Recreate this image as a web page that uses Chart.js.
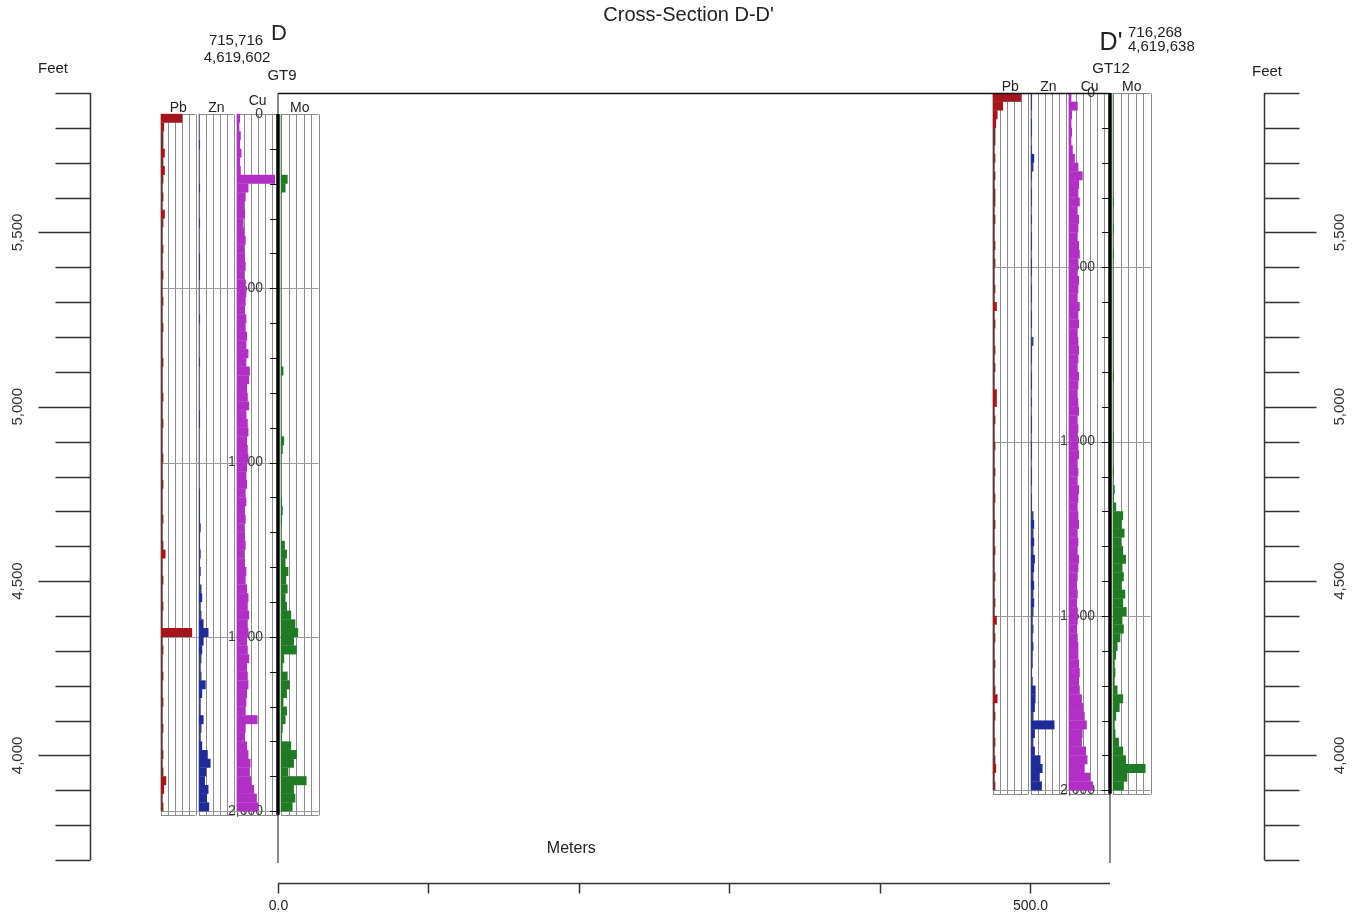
<!DOCTYPE html>
<html>
<head>
<meta charset="utf-8">
<title>Cross-Section D-D'</title>
<script src="https://cdn.jsdelivr.net/npm/chart.js@4.4.1/dist/chart.umd.min.js"></script>
<style>
  html, body { margin: 0; padding: 0; background: #fff; }
  #wrap { position: relative; width: 1359px; height: 917px; }
</style>
</head>
<body>
<div id="wrap"><canvas id="xs"></canvas></div>
<script>
// sample spacing down each hole (ft) and total depth drilled
const sampleStep = 25
const holeDepth = 2010

// assay logs, one value per 25 ft interval from the collar (track units, 10 = one grid cell)
const gt9Pb = [30,4,3,3,5,3,5,3,2,3, 2,5,3,2,2,3,2,2,3,2, 2,3,2,2,3,2,2,2,3,2, 2,2,3,2,2,3,2,2,2,3,
               2,2,3,2,2,2,3,2,2,3, 6,2,2,3,2,2,3,2,2,44, 2,3,2,2,3,2,2,3,2,2, 3,2,2,3,2,3,7,4,2,3]
const gt9Zn = [0,0,0,1,0,0,0,0,1,0, 0,0,1,0,0,0,1,1,1,0, 0,0,0,1,0,0,0,0,1,0, 0,0,0,0,1,1,0,0,0,0,
               0,0,0,1,1,1,1,2,1,1, 2,1,2,1,3,4,2,3,6,13, 6,4,3,2,3,9,4,2,2,6, 3,2,4,12,16,10,8,13,11,14]
const gt9Cu = [4,3,5,4,6,4,5,54,16,12, 10,11,9,10,12,10,11,12,10,12, 13,12,11,13,12,14,13,16,13,18, 17,14,15,17,13,15,16,14,15,16,
               14,13,14,12,13,11,12,10,11,12, 10,11,13,12,14,16,15,17,15,16, 14,15,17,14,15,16,14,13,12,29, 12,11,14,16,19,18,20,24,28,30]
const gt9Mo = [0,0,0,0,0,0,0,9,6,0, 0,0,0,0,0,0,0,0,0,0, 0,0,0,0,0,0,0,0,0,3, 0,0,0,0,0,0,0,4,2,0,
               0,0,0,0,1,2,1,0,0,5, 8,6,10,7,9,6,8,14,20,24, 18,22,4,2,9,12,8,3,8,6, 2,1,14,22,18,10,36,18,20,16]

const gt12Pb = [40,14,6,4,3,3,2,3,2,3, 2,3,3,2,3,2,2,3,2,3, 2,2,3,2,5,2,3,2,2,3, 2,3,2,2,5,5,2,3,2,2,
                3,2,2,3,2,2,3,2,2,3, 2,2,3,2,2,3,2,2,3,2, 5,2,3,2,2,3,2,2,3,6, 2,3,2,2,3,2,3,4,2,3]
const gt12Zn = [1,1,0,1,1,0,1,4,3,1, 0,1,1,0,1,0,1,1,0,1, 1,0,1,1,0,1,1,0,3,1, 1,0,1,1,0,1,0,1,1,0,
                1,1,0,1,1,0,1,1,3,4, 3,4,3,5,4,3,4,3,4,3, 2,3,2,3,2,2,1,2,6,6, 5,3,33,5,3,5,13,16,12,15]
const gt12Cu = [3,12,4,3,4,3,5,8,13,19, 14,13,15,12,14,13,12,14,15,13, 12,14,13,12,15,13,14,12,13,14, 13,12,14,13,12,13,14,12,13,12,
                13,14,12,13,12,14,13,12,13,14, 12,13,12,14,13,12,11,12,11,12, 12,11,12,13,13,14,15,14,15,18, 20,22,25,19,18,24,26,22,30,34]
const gt12Mo = [0,0,0,0,0,0,0,0,0,0, 0,0,1,0,0,1,0,0,1,0, 0,0,0,0,0,0,0,0,0,0, 0,0,1,0,0,0,0,0,0,1,
                0,0,0,1,0,2,1,4,14,12, 16,11,14,18,13,15,12,17,14,19, 13,15,10,6,4,2,3,2,6,14, 9,4,2,3,8,14,18,46,20,15]

// holes: distance along section (m), collar elevation (ft), coordinates
const holes = ['GT9', 'GT12']
const holeDistance = [0, 553.2]
const collarElev = [5840, 5900]
const holeEasting = ['715,716', '716,268']
const holeNorthing = ['4,619,602', '4,619,638']
const sectionEnds = ['D', "D'"]
const elements = ['Pb', 'Zn', 'Cu', 'Mo']

// axes
const feetTicks = [5900, 5800, 5700, 5600, 5500, 5400, 5300, 5200, 5100, 5000, 4900, 4800,
                   4700, 4600, 4500, 4400, 4300, 4200, 4100, 4000, 3900, 3800, 3700]
const feetMajor = [5500, 5000, 4500, 4000]
const feetMajorLabels = ['5,500', '5,000', '4,500', '4,000']
const meterTicks = [0, 100, 200, 300, 400, 500]
const meterLabels = ['0.0', '', '', '', '', '500.0']
const depthMarks = [0, 500, 1000, 1500, 2000]
const depthLabels = ['0', '500', '1,000', '1,500', '2,000']

// styling / track geometry (metres, relative to the hole trace)
const FONT = '"Liberation Sans", Arial, sans-serif'
const elementColor = { Pb: '#a3161b', Zn: '#1f2b98', Cu: '#b22fc6', Mo: '#1f7a24' }
const traceColor = { Pb: '#6a3434', Zn: '#3a3f7a', Cu: '#b22fc6', Mo: '#1f7a24' }
const track = {
  Pb: { left: -77.8, cells: 5, cell: 4.6 },
  Zn: { left: -52.5, cells: 5, cell: 4.6 },
  Cu: { left: -27.3, cells: 6, cell: 4.6 },
  Mo: { left: 2.0, cells: 5, cell: 5.0 }
}
const unitM = 0.4654
const logs = {
  GT9: { Pb: gt9Pb, Zn: gt9Zn, Cu: gt9Cu, Mo: gt9Mo },
  GT12: { Pb: gt12Pb, Zn: gt12Zn, Cu: gt12Cu, Mo: gt12Mo }
}

const datasets = []
holes.forEach((h, w) => {
  elements.forEach(el => {
    const x0 = holeDistance[w] + track[el].left
    const vals = logs[h][el]
    datasets.push({
      label: h + ' ' + el,
      data: vals.map((v, i) => ({ y: collarElev[w] - (i + 0.5) * sampleStep, x: [x0, x0 + v * unitM] })),
      // the faint background trace is darker than the anomalies
      backgroundColor: c => (vals[c.dataIndex] <= 3 ? traceColor[el] : elementColor[el]),
      borderWidth: 0,
      barThickness: 8.3,
      grouped: false
    })
  })
})

function text (ctx, s, x, y, size, align = 'center', base = 'middle', color = '#222') {
  ctx.font = size + 'px ' + FONT
  ctx.textAlign = align
  ctx.textBaseline = base
  ctx.fillStyle = color
  ctx.fillText(s, x, y)
}

function line (ctx, x1, y1, x2, y2, width = 1, color = '#000') {
  ctx.beginPath()
  ctx.lineWidth = width
  ctx.strokeStyle = color
  ctx.moveTo(x1, y1)
  ctx.lineTo(x2, y2)
  ctx.stroke()
}

const crisp = v => Math.round(v) + 0.5

const section = {
  id: 'section',
  beforeDraw (chart) {
    const { ctx, width, height } = chart
    ctx.save()
    ctx.fillStyle = '#fff'
    ctx.fillRect(0, 0, width, height)
    ctx.restore()
  },
  beforeDatasetsDraw (chart) {
    const { ctx } = chart
    const X = m => chart.scales.x.getPixelForValue(m)
    const Y = e => chart.scales.y.getPixelForValue(e)
    ctx.save()
    holes.forEach((h, w) => {
      const d = holeDistance[w]
      const top = crisp(Y(collarElev[w]))
      const bot = crisp(Y(collarElev[w] - holeDepth))
      elements.forEach(el => {
        const t = track[el]
        for (let c = 0; c <= t.cells; c++) {
          const x = crisp(X(d + t.left + c * t.cell))
          line(ctx, x, top, x, bot, 1, '#8c8c8c')
        }
        line(ctx, X(d + t.left), top, X(d + t.left + t.cells * t.cell), top, 1, '#8c8c8c')
        line(ctx, X(d + t.left), bot, X(d + t.left + t.cells * t.cell), bot, 1, '#8c8c8c')
      })
      const gx0 = X(d + track.Pb.left)
      const gx1 = X(d + track.Mo.left + track.Mo.cells * track.Mo.cell)
      depthMarks.forEach((dm, k) => {
        const y = crisp(Y(collarElev[w] - dm))
        if (dm > 0) line(ctx, gx0, y, gx1, y, 1, '#9a9a9a')
        text(ctx, depthLabels[k], X(d) - 15, Y(collarElev[w] - dm), 14, 'right', 'middle', '#3a3a3a')
      })
    })
    ctx.restore()
  },
  afterDatasetsDraw (chart) {
    const { ctx, chartArea } = chart
    const X = m => chart.scales.x.getPixelForValue(m)
    const Y = e => chart.scales.y.getPixelForValue(e)
    ctx.save()

    // section frame
    const yTop = crisp(Y(5900))
    line(ctx, X(holeDistance[0]), yTop, X(holeDistance[1]), yTop, 1.5, '#111')

    holes.forEach((h, w) => {
      const x = X(holeDistance[w])
      const yc = Y(collarElev[w])
      const yb = Y(collarElev[w] - holeDepth)
      line(ctx, x, yTop, x, yc, 1, '#111')
      line(ctx, x, yc, x, yb, 3.5, '#000')
      line(ctx, x, yb, x, chartArea.bottom + 3, 1, '#111')
      for (let dd = 100; dd < holeDepth; dd += 100) {
        const y = crisp(Y(collarElev[w] - dd))
        line(ctx, x - 8, y, x - 1, y, 1, '#111')
      }
      // track headers
      elements.forEach(el => {
        const t = track[el]
        const cx = X(holeDistance[w] + t.left + t.cells * t.cell / 2)
        const lift = (el === 'Cu' && w === 0) ? 9 : 2
        text(ctx, el, cx, yc - lift, 14, 'center', 'alphabetic', '#222')
      })
    })

    // hole annotations
    const x0 = X(holeDistance[0])
    text(ctx, sectionEnds[0], x0 + 1, 34, 22)
    text(ctx, holeEasting[0], x0 - 42, 41, 15)
    text(ctx, holeNorthing[0], x0 - 41, 58, 15)
    text(ctx, holes[0], x0 + 4, 76, 15)
    const x1 = X(holeDistance[1])
    text(ctx, sectionEnds[1], x1 + 1, 43, 25)
    text(ctx, holeEasting[1], x1 + 18, 33, 15, 'left')
    text(ctx, holeNorthing[1], x1 + 18, 47, 15, 'left')
    text(ctx, holes[1], x1 + 1, 69, 15)

    ctx.restore()
  },
  afterDraw (chart) {
    const { ctx, chartArea } = chart
    const X = m => chart.scales.x.getPixelForValue(m)
    const Y = e => chart.scales.y.getPixelForValue(e)
    ctx.save()

    // elevation axes, both sides
    const axL = crisp(chartArea.left)
    const axR = crisp(chartArea.right)
    line(ctx, axL, Y(feetTicks[0]), axL, Y(feetTicks[feetTicks.length - 1]), 1.5, '#333')
    line(ctx, axR, Y(feetTicks[0]), axR, Y(feetTicks[feetTicks.length - 1]), 1.5, '#333')
    feetTicks.forEach(v => {
      const y = crisp(Y(v))
      const len = feetMajor.includes(v) ? 52 : 35
      line(ctx, axL - len, y, axL, y, 1.5, '#333')
      line(ctx, axR, y, axR + len, y, 1.5, '#333')
    })
    feetMajor.forEach((v, k) => {
      const y = Y(v)
      ;[chartArea.left - 72, chartArea.right + 76].forEach(x => {
        ctx.save()
        ctx.translate(x, y)
        ctx.rotate(-Math.PI / 2)
        text(ctx, feetMajorLabels[k], 0, 0, 15, 'center', 'middle', '#333')
        ctx.restore()
      })
    })
    text(ctx, 'Feet', chartArea.left - 37, 69, 15)
    text(ctx, 'Feet', chartArea.right + 3, 72, 15)

    // horizontal distance axis
    const ya = crisp(chartArea.bottom + 23)
    line(ctx, X(holeDistance[0]), ya, X(holeDistance[1]), ya, 1.5, '#333')
    meterTicks.forEach((m, k) => {
      const x = crisp(X(m))
      line(ctx, x, ya, x, ya + 10, 1.5, '#333')
      if (meterLabels[k]) text(ctx, meterLabels[k], x, ya + 23, 14)
    })
    text(ctx, 'Meters', X(195), chartArea.bottom - 11, 16)

    // title
    text(ctx, "Cross-Section D-D'", X(273), 15, 20)
    ctx.restore()
  }
}

const chart = new Chart(document.getElementById('xs'), {
  type: 'bar',
  data: { datasets },
  options: {
    indexAxis: 'y',
    animation: false,
    responsive: true,
    maintainAspectRatio: false,
    events: [],
    layout: { padding: { left: 90, right: 95, top: 93, bottom: 57 } },
    plugins: {
      legend: { display: false },
      tooltip: { enabled: false },
      title: { display: false }
    },
    scales: {
      x: { type: 'linear', min: -125, max: 655.6, offset: false, display: false },
      y: { type: 'linear', min: 3700, max: 5900, offset: false, display: false }
    }
  },
  plugins: [section]
})
</script>
</body>
</html>
